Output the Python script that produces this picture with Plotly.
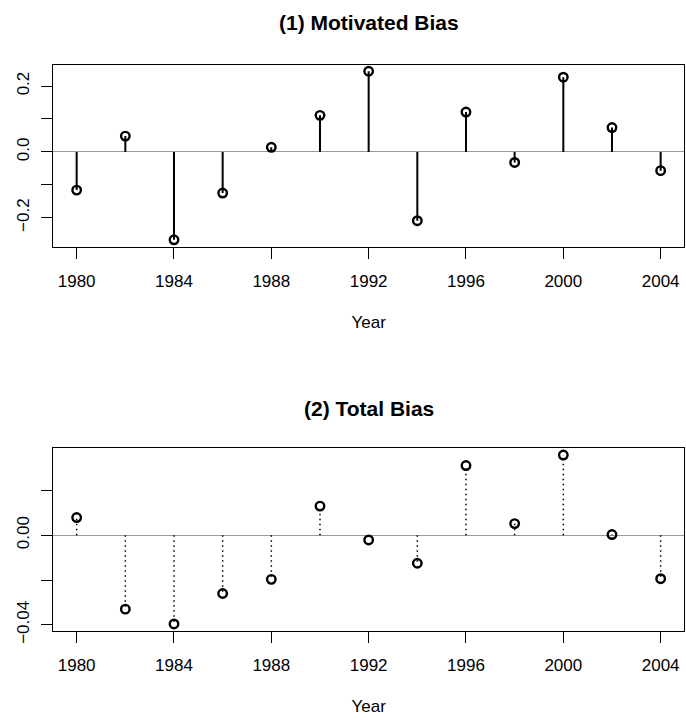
import plotly.graph_objects as go

years = [1980, 1982, 1984, 1986, 1988, 1990, 1992, 1994, 1996, 1998, 2000, 2002, 2004]
motivated_bias = [-0.116, 0.048, -0.267, -0.125, 0.014, 0.111, 0.245, -0.209, 0.121, -0.032, 0.227, 0.074, -0.057]
total_bias = [0.0079, -0.0330, -0.0396, -0.0260, -0.0197, 0.0130, -0.0021, -0.0125, 0.0311, 0.0052, 0.0358, 0.0003, -0.0194]

x_tickvals = [1980, 1984, 1988, 1992, 1996, 2000, 2004]
x_ticktext = ["1980", "1984", "1988", "1992", "1996", "2000", "2004"]
y1_tickvals = [-0.2, -0.1, 0.0, 0.1, 0.2]
y1_ticktext = ["\u22120.2", "", "0.0", "", "0.2"]
y2_tickvals = [-0.04, -0.02, 0.0, 0.02]
y2_ticktext = ["\u22120.04", "", "0.00", ""]

titles = ["(1) Motivated Bias", "(2) Total Bias"]
x_label = "Year"

FONT = "Liberation Sans, Arial, Helvetica, sans-serif"


def padded(vals):
    lo, hi = min(vals), max(vals)
    d = (hi - lo) * 0.04
    return [lo - d, hi + d]


def stems(xs, ys):
    sx, sy = [], []
    for x, y in zip(xs, ys):
        sx += [x, x, None]
        sy += [0, y, None]
    return sx, sy


fig = go.Figure()

s1x, s1y = stems(years, motivated_bias)
fig.add_trace(go.Scatter(x=s1x, y=s1y, mode="lines", line=dict(color="black", width=2),
                         xaxis="x", yaxis="y", showlegend=False, hoverinfo="skip"))
fig.add_trace(go.Scatter(x=years, y=motivated_bias, mode="markers",
                         marker=dict(symbol="circle-open", size=8.5, color="black", line=dict(width=2.4)),
                         xaxis="x", yaxis="y", showlegend=False))

s2x, s2y = stems(years, total_bias)
fig.add_trace(go.Scatter(x=s2x, y=s2y, mode="lines", line=dict(color="black", width=1.5, dash="1.5px,3.5px"),
                         xaxis="x2", yaxis="y2", showlegend=False, hoverinfo="skip"))
fig.add_trace(go.Scatter(x=years, y=total_bias, mode="markers",
                         marker=dict(symbol="circle-open", size=8.5, color="black", line=dict(width=2.4)),
                         xaxis="x2", yaxis="y2", showlegend=False))

xr = padded(years)
axis_common = dict(showline=True, linecolor="black", linewidth=1, mirror=True,
                   ticks="outside", ticklen=11, tickcolor="black", tickwidth=1, automargin=False,
                   showgrid=False, tickfont=dict(family=FONT, size=17, color="black"))

fig.update_layout(
    width=686, height=720,
    margin=dict(l=0, r=0, t=0, b=0),
    paper_bgcolor="white", plot_bgcolor="white",
    font=dict(family=FONT, color="black"),
    xaxis=dict(domain=[0.0777, 0.9971], anchor="y", range=xr, tickvals=x_tickvals, ticktext=x_ticktext,
               zeroline=False, ticklabelstandoff=8,
               title=dict(text=x_label, font=dict(family=FONT, size=17), standoff=26), **axis_common),
    yaxis=dict(domain=[0.6576, 0.9104], anchor="x", range=padded(motivated_bias),
               tickvals=y1_tickvals, ticktext=y1_ticktext, tickangle=-90,
               zeroline=True, zerolinecolor="#9a9a9a", zerolinewidth=1, ticklabelstandoff=6, **axis_common),
    xaxis2=dict(domain=[0.0777, 0.9971], anchor="y2", range=xr, tickvals=x_tickvals, ticktext=x_ticktext,
                zeroline=False, ticklabelstandoff=8,
                title=dict(text=x_label, font=dict(family=FONT, size=17), standoff=25), **axis_common),
    yaxis2=dict(domain=[0.1240, 0.3774], anchor="x2", range=padded(total_bias),
                tickvals=y2_tickvals, ticktext=y2_ticktext, tickangle=-90,
                zeroline=True, zerolinecolor="#9a9a9a", zerolinewidth=1, ticklabelstandoff=6, **axis_common),
    annotations=[
        dict(text="<b>" + titles[0] + "</b>", x=0.5375, y=1 - 22 / 720, xref="paper", yref="paper",
             showarrow=False, xanchor="center", yanchor="middle", font=dict(family=FONT, size=21)),
        dict(text="<b>" + titles[1] + "</b>", x=0.5375, y=1 - 408 / 720, xref="paper", yref="paper",
             showarrow=False, xanchor="center", yanchor="middle", font=dict(family=FONT, size=21)),
    ],
)

fig.write_html("out.html", config={"displayModeBar": False},
               post_script="document.body.style.margin='0px';document.body.style.overflow='hidden';")
